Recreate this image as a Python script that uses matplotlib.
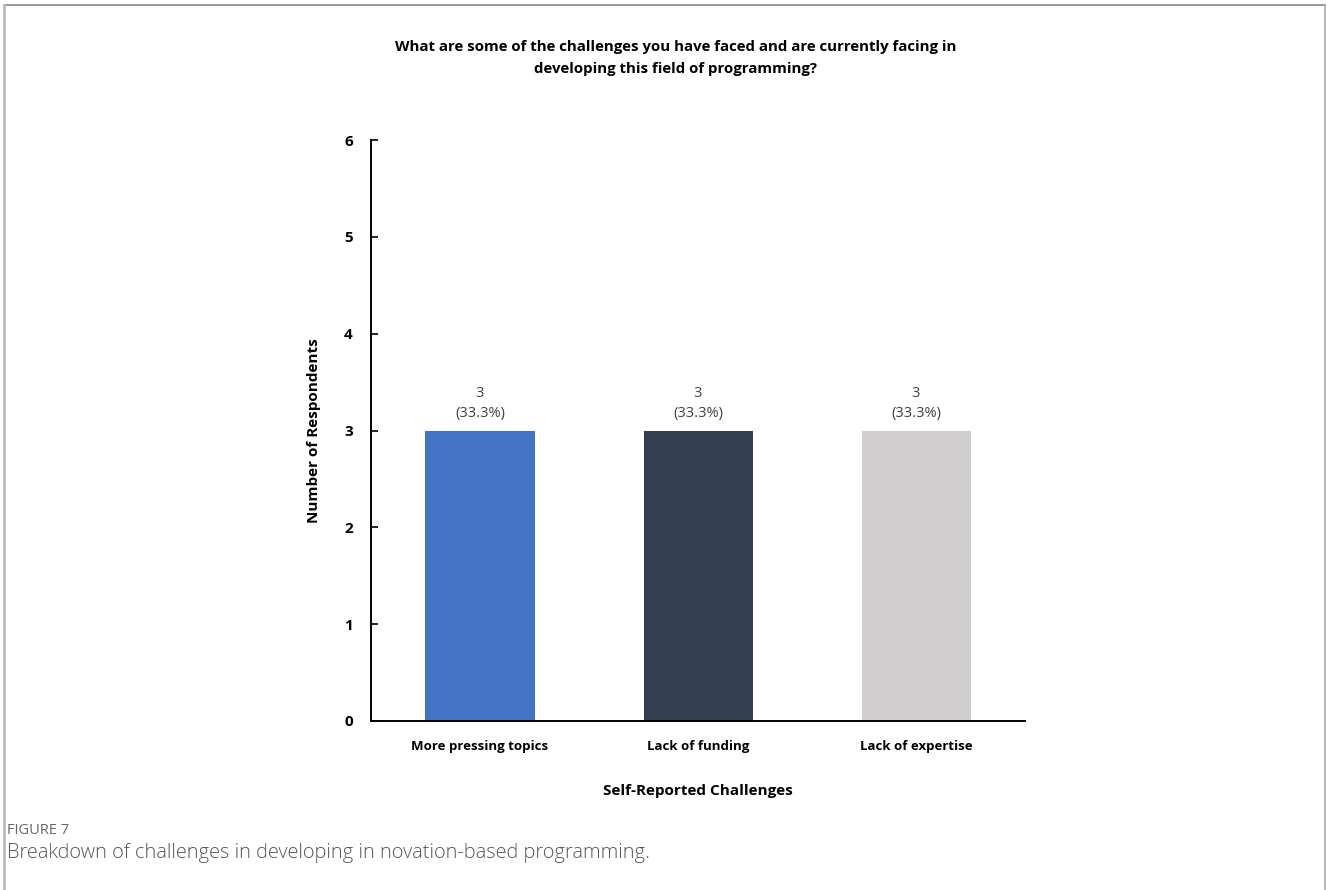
import matplotlib
matplotlib.use("Agg")
import matplotlib.pyplot as plt
from matplotlib import font_manager
from matplotlib.lines import Line2D

categories = ["More pressing topics", "Lack of funding", "Lack of expertise"]
counts = [3, 3, 3]
shares = [33.3, 33.3, 33.3]
bar_colors = ["#4472C4", "#333F50", "#D0CECE"]
y_ticks = [0, 1, 2, 3, 4, 5, 6]

available = {f.name for f in font_manager.fontManager.ttflist}
narrow = "Liberation Sans Narrow" if "Liberation Sans Narrow" in available else "Open Sans"
caption_font = "Open Sans" if "Open Sans" in available else "DejaVu Sans"

fig = plt.figure(figsize=(13.28, 8.90), dpi=100)
ax = fig.add_axes([371 / 1328, 169 / 890, 654 / 1328, 581 / 890])

x = list(range(len(categories)))
ax.bar(x, counts, width=0.5, color=bar_colors)

for xi, c, s in zip(x, counts, shares):
    ax.annotate(f"{c}\n({s:.1f}%)", xy=(xi, c), xytext=(0, 7),
                textcoords="offset points", ha="center", va="bottom",
                fontsize=10.5, color="#404040", family=narrow, linespacing=1.45)

ax.set_xlim(-0.5, 2.5)
ax.set_ylim(0, 6)
ax.set_yticks(y_ticks)
ax.set_xticks(x)
ax.set_xticklabels(categories, fontsize=9.5, fontweight="bold", family=narrow)
for lbl in ax.get_yticklabels():
    lbl.set_fontsize(11)
    lbl.set_fontweight("bold")
    lbl.set_family(narrow)
ax.tick_params(axis="y", direction="in", length=5, width=1.2, pad=13)
ax.tick_params(axis="x", length=0, pad=14)

for side in ("top", "right"):
    ax.spines[side].set_visible(False)
ax.spines["left"].set_linewidth(1.4)
ax.spines["bottom"].set_linewidth(1.4)

ax.set_ylabel("Number of Respondents", fontsize=11, fontweight="bold",
              family=narrow, labelpad=17)
ax.set_xlabel("Self-Reported Challenges", fontsize=11, fontweight="bold",
              family=narrow, labelpad=22)

fig.text(676 / 1328, 1 - 58 / 890,
         "What are some of the challenges you have faced and are currently facing in\n"
         "developing this field of programming?",
         ha="center", va="center", fontsize=10.8, fontweight="bold",
         family=narrow, linespacing=1.75)

fig.text(7 / 1328, 1 - 830 / 890, "FIGURE 7", ha="left", va="center",
         fontsize=10.5, color="#666666", family=caption_font)
fig.text(7 / 1328, 1 - 853 / 890,
         "Breakdown of challenges in developing in novation-based programming.",
         ha="left", va="center", fontsize=14.4, color="#555555",
         family=caption_font, fontweight="light")

# panel frame
fig.add_artist(Line2D([4 / 1328, 1325 / 1328], [1 - 5 / 890, 1 - 5 / 890],
                      transform=fig.transFigure, color="#888888", lw=1.2))
fig.add_artist(Line2D([4 / 1328, 4 / 1328], [0, 1 - 5 / 890],
                      transform=fig.transFigure, color="#BBBBBB", lw=2.0))
fig.add_artist(Line2D([1325 / 1328, 1325 / 1328], [0, 1 - 5 / 890],
                      transform=fig.transFigure, color="#AAAAAA", lw=1.2))

fig.savefig("out.png", dpi=100)
